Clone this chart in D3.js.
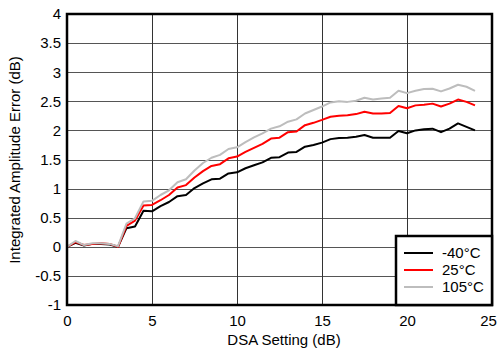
<!DOCTYPE html>
<html>
<head>
<meta charset="utf-8">
<script src="https://cdn.jsdelivr.net/npm/d3@7"></script>
<style>
  html, body { margin: 0; padding: 0; background: #fff; }
  svg { display: block; }
  text { font-family: "Liberation Sans", Arial, Helvetica, sans-serif; fill: #000; }
</style>
</head>
<body>
<svg id="chart" width="498" height="349"></svg>
<script>
// DSA setting (dB)
const dsa = [0,0.5,1,1.5,2,2.5,3,3.5,4,4.5,5,5.5,6,6.5,7,7.5,8,8.5,9,9.5,10,10.5,11,11.5,12,12.5,13,13.5,14,14.5,15,15.5,16,16.5,17,17.5,18,18.5,19,19.5,20,20.5,21,21.5,22,22.5,23,23.5,24];
// Integrated amplitude error (dB)
const errM40 = [0,0.07,0.02,0.05,0.05,0.04,0.0,0.32,0.35,0.62,0.61,0.70,0.77,0.87,0.89,1.01,1.09,1.16,1.17,1.26,1.28,1.35,1.40,1.45,1.53,1.54,1.62,1.63,1.72,1.75,1.79,1.85,1.87,1.875,1.89,1.92,1.875,1.875,1.875,1.99,1.95,2.0,2.02,2.03,1.97,2.03,2.12,2.06,2.0];
const err25 = [0,0.08,0.03,0.05,0.06,0.05,0.0,0.36,0.45,0.71,0.72,0.80,0.89,1.02,1.06,1.19,1.30,1.39,1.42,1.52,1.55,1.63,1.70,1.77,1.86,1.875,1.97,1.98,2.09,2.13,2.18,2.235,2.25,2.26,2.28,2.32,2.29,2.29,2.30,2.42,2.38,2.43,2.44,2.46,2.41,2.46,2.53,2.49,2.43];
const err105 = [0,0.1,0.03,0.06,0.06,0.05,0.01,0.40,0.49,0.78,0.79,0.89,0.97,1.11,1.16,1.31,1.44,1.53,1.58,1.68,1.71,1.80,1.88,1.95,2.03,2.07,2.15,2.19,2.29,2.35,2.41,2.48,2.50,2.49,2.51,2.56,2.53,2.55,2.56,2.68,2.64,2.68,2.71,2.715,2.67,2.72,2.785,2.75,2.68];

const seriesNames = ["-40°C", "25°C", "105°C"];
const seriesColors = ["#000000", "#ff0000", "#bdbdbd"];
const seriesValues = [errM40, err25, err105];

const xTicks = [0,5,10,15,20,25];
const yTicks = [-1,-0.5,0,0.5,1,1.5,2,2.5,3,3.5,4];
const xTitle = "DSA Setting (dB)";
const yTitle = "Integrated Amplitude Error (dB)";

const svg = d3.select("#chart");
const pL = 67, pR = 492, pT = 14, pB = 305;

const x = d3.scaleLinear().domain([0, 25]).range([pL, pR]);
const y = d3.scaleLinear().domain([-1, 4]).range([pB, pT]);

// grid
const grid = svg.append("g");
grid.selectAll("line.h").data(yTicks).join("line")
  .attr("x1", pL).attr("x2", pR)
  .attr("y1", d => Math.round(y(d)) + 0.5).attr("y2", d => Math.round(y(d)) + 0.5)
  .attr("stroke", "#555").attr("stroke-width", 1);
grid.selectAll("line.v").data(xTicks).join("line")
  .attr("y1", pT).attr("y2", pB)
  .attr("x1", d => Math.round(x(d)) + 0.5).attr("x2", d => Math.round(x(d)) + 0.5)
  .attr("stroke", "#333").attr("stroke-width", 1);

// axes (labels only)
const xAxis = d3.axisBottom(x).tickValues(xTicks).tickSize(0).tickPadding(10).tickFormat(d3.format("d"));
const gx = svg.append("g").attr("transform", `translate(0,${pB})`).call(xAxis);
gx.select(".domain").remove();
gx.selectAll("text").attr("font-size", 15).attr("font-family", "Liberation Sans, Arial, sans-serif");
// keep the last label inside the page
gx.selectAll(".tick").filter(d => d === 25).select("text").attr("dx", -4);

const yAxis = d3.axisLeft(y).tickValues(yTicks).tickSize(0).tickPadding(6).tickFormat(d => String(d));
const gy = svg.append("g").attr("transform", `translate(${pL},0)`).call(yAxis);
gy.select(".domain").remove();
gy.selectAll("text").attr("font-size", 15).attr("font-family", "Liberation Sans, Arial, sans-serif");

// lines
const line = d3.line().x((d, i) => x(dsa[i])).y(d => y(d));
svg.append("g").selectAll("path").data(seriesValues).join("path")
  .attr("d", d => line(d))
  .attr("fill", "none")
  .attr("stroke", (d, i) => seriesColors[i])
  .attr("stroke-width", 2)
  .attr("stroke-linejoin", "round");

// frame
svg.append("rect").attr("x", pL).attr("y", pT)
  .attr("width", pR - pL).attr("height", pB - pT)
  .attr("fill", "none").attr("stroke", "#000").attr("stroke-width", 2.5);

// legend
const lg = svg.append("g");
lg.append("rect").attr("x", 396).attr("y", 236).attr("width", pR - 396).attr("height", pB - 236)
  .attr("fill", "#fff").attr("stroke", "#000").attr("stroke-width", 2.5);
seriesNames.forEach((name, i) => {
  const yy = 253 + i * 17;
  lg.append("line").attr("x1", 404).attr("x2", 433).attr("y1", yy).attr("y2", yy)
    .attr("stroke", seriesColors[i]).attr("stroke-width", 2);
  lg.append("text").attr("x", 442).attr("y", yy).attr("dy", "0.35em")
    .attr("font-size", 15).text(name);
});

// titles
svg.append("text").attr("x", 284).attr("y", 345).attr("text-anchor", "middle")
  .attr("font-size", 15).text(xTitle);
svg.append("text").attr("transform", "translate(20,160) rotate(-90)")
  .attr("text-anchor", "middle").attr("font-size", 15).text(yTitle);
</script>
</body>
</html>
